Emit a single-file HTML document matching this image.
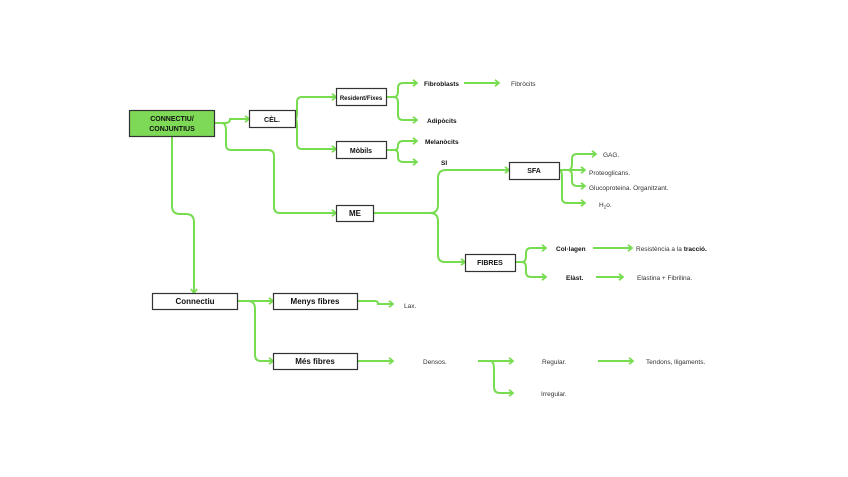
<!DOCTYPE html>
<html><head><meta charset="utf-8"><style>
html,body{margin:0;padding:0;background:#fff;}
svg{display:block;font-family:"Liberation Sans",sans-serif;}
</style></head><body>
<svg width="848" height="477" viewBox="0 0 848 477" xmlns="http://www.w3.org/2000/svg">
<defs>
<marker id="a" viewBox="0 0 10 10" refX="8" refY="5" markerWidth="8" markerHeight="8" orient="auto" markerUnits="userSpaceOnUse">
<path d="M3,1 L8,5 L3,9" fill="none" stroke="#78dc50" stroke-width="2.2"/>
</marker>
</defs>
<g fill="none" stroke="#78dc50" stroke-width="2" marker-end="url(#a)">
<path d="M214,123 H225 q5,0 5,-4 H249"/>
<path d="M222,123 q4,0 4,8 V145 q0,5 5,5 H268 q6,0 6,6 V207 q0,6 6,6 H336"/>
<path d="M295,119 q2,0 2,-6 V102 q0,-5 5,-5 H336"/>
<path d="M295,119 q2,0 2,6 V144 q0,5 5,5 H336"/>
<path d="M386,97 H394 q4,0 4,-6 V88 q0,-5 5,-5 H417"/>
<path d="M386,97 H394 q4,0 4,6 V115 q0,5 5,5 H417"/>
<path d="M386,150 H394 q4,0 4,-4 q0,-5 5,-5 H417"/>
<path d="M386,150 H394 q4,0 4,4 V157 q0,5 5,5 H417"/>
<path d="M464,83 H499"/>
<path d="M373,213 H430 q8,0 8,-8 V178 q0,-8 8,-8 H509"/>
<path d="M430,213 q8,0 8,8 V255 q0,7 7,7 H465"/>
<path d="M559,170 H568 q4,0 4,-6 V159 q0,-5 5,-5 H596"/>
<path d="M559,170 H585"/>
<path d="M568,170 q4,0 4,6 V181 q0,5 5,5 H585"/>
<path d="M559,170 q3,0 3,6 V198 q0,5 5,5 H585"/>
<path d="M515,262 H522 q4,0 4,-6 V253 q0,-5 5,-5 H546"/>
<path d="M515,262 H522 q4,0 4,6 V272 q0,5 5,5 H546"/>
<path d="M593,248 H632"/>
<path d="M596,277 H623"/>
<path d="M172,136 V206 q0,8 8,8 H186 q8,0 8,8 V293"/>
<path d="M237,301 H273"/>
<path d="M248,301 q7,0 7,8 V355 q0,6 6,6 H273"/>
<path d="M357,301 H375 q3,0 3,3 H393"/>
<path d="M357,361 H393"/>
<path d="M478,361 H513"/>
<path d="M490,361 q4,0 4,8 V387 q0,6 6,6 H513"/>
<path d="M598,361 H633"/>
</g>
<g stroke="#333" stroke-width="1.2">
<rect x="129.5" y="110.5" width="85" height="26" fill="#7ed957"/>
<rect x="249.5" y="110.5" width="46" height="17" fill="#fff"/>
<rect x="336.5" y="88.5" width="50" height="17" fill="#fff"/>
<rect x="336.5" y="141.5" width="50" height="17" fill="#fff"/>
<rect x="336.5" y="205.5" width="37" height="16" fill="#fff"/>
<rect x="509.5" y="162.5" width="50" height="17" fill="#fff"/>
<rect x="465.5" y="254.5" width="50" height="17" fill="#fff"/>
<rect x="152.5" y="293.5" width="85" height="16" fill="#fff"/>
<rect x="273.5" y="293.5" width="84" height="16" fill="#fff"/>
<rect x="273.5" y="353.5" width="84" height="16" fill="#fff"/>
</g>
<g font-weight="bold" fill="#111" text-anchor="middle" font-size="7">
<text x="172" y="121">CONNECTIU/</text>
<text x="172" y="131">CONJUNTIUS</text>
<text x="272" y="122">CÈL.</text>
<text x="361" y="100" font-size="6">Resident/Fixes</text>
<text x="361" y="153">Mòbils</text>
<text x="355" y="216" font-size="8">ME</text>
<text x="534" y="173">SFA</text>
<text x="490" y="265">FIBRES</text>
<text x="195" y="304" font-size="8">Connectiu</text>
<text x="315" y="304" font-size="8">Menys fibres</text>
<text x="315" y="364" font-size="8">Més fibres</text>
</g>
<g font-weight="bold" fill="#111" font-size="6.5">
<text x="424" y="86">Fibroblasts</text>
<text x="427" y="123">Adipòcits</text>
<text x="425" y="144">Melanòcits</text>
<text x="441" y="165">SI</text>
<text x="556" y="251">Col·lagen</text>
<text x="566" y="280">Elàst.</text>
</g>
<g fill="#333" font-size="6.5">
<text x="511" y="86">Fibròcits</text>
<text x="603" y="157">GAG.</text>
<text x="589" y="175">Proteoglicans.</text>
<text x="589" y="190">Glucoproteina. Organitzant.</text>
<text x="599" y="207">H<tspan font-size="4.5" dy="1.5">2</tspan><tspan dy="-1.5">o.</tspan></text>
<text x="636" y="251">Resistència a la <tspan font-weight="bold" fill="#111">tracció.</tspan></text>
<text x="637" y="280">Elastina + Fibrilina.</text>
<text x="404" y="308">Lax.</text>
<text x="423" y="364">Densos.</text>
<text x="542" y="364">Regular.</text>
<text x="541" y="396">Irregular.</text>
<text x="646" y="364">Tendons, lligaments.</text>
</g>
</svg>
</body></html>
